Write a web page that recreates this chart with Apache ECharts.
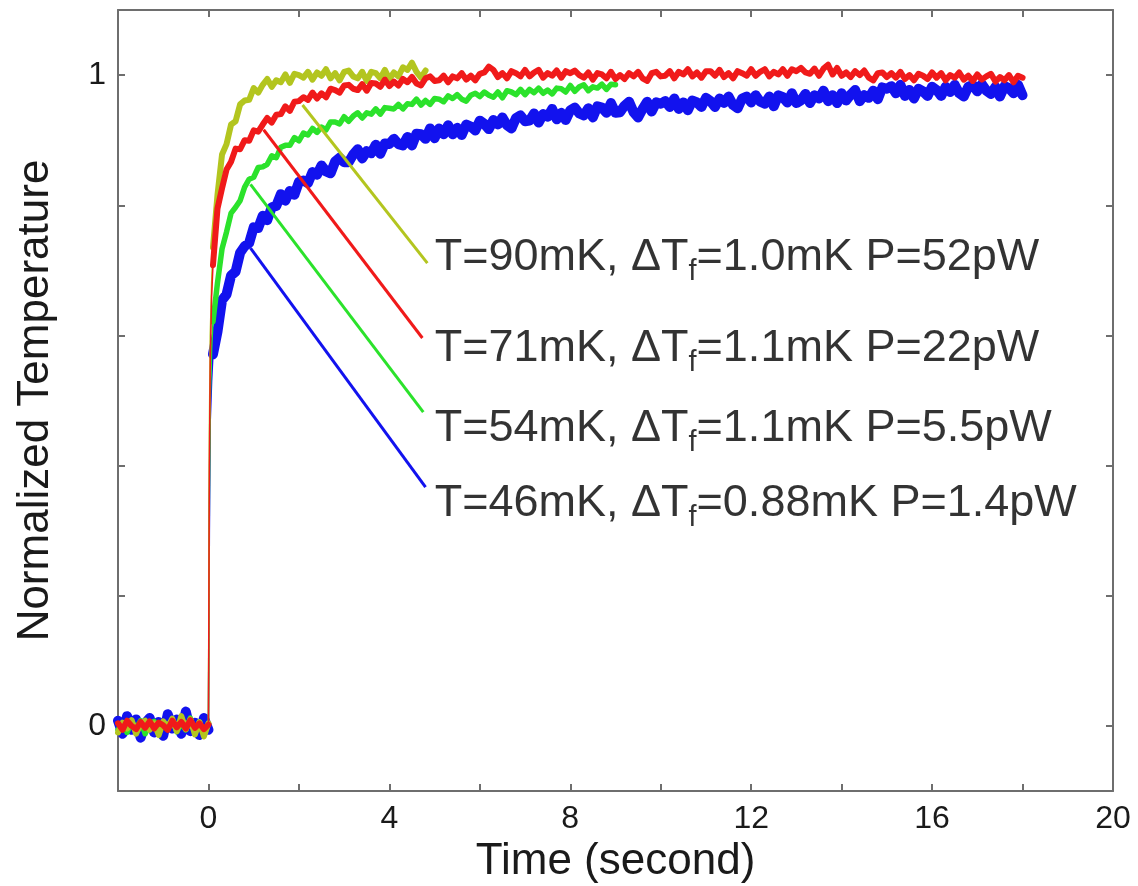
<!DOCTYPE html>
<html>
<head>
<meta charset="utf-8">
<script src="https://cdn.jsdelivr.net/npm/echarts@6/dist/echarts.min.js"></script>
<style>
html,body{margin:0;padding:0;background:#ffffff;}
#chart{width:1138px;height:886px;}
</style>
</head>
<body>
<div id="chart"></div>
<script>
// ---- data ----
const timeSec = [
  -2.0,-1.9,-1.8,-1.7,-1.6,-1.5,-1.4,-1.3,-1.2,-1.1,-1.0,-0.9,-0.8,-0.7,-0.6,-0.5,-0.4,-0.3,-0.2,-0.1,0.0,
  0.02,0.04,0.07,
  0.1,0.2,0.3,0.4,0.5,0.6,0.7,0.8,0.9,1.0,
  1.1,1.2,1.3,1.4,1.5,1.6,1.7,1.8,1.9,2.0,
  2.1,2.2,2.3,2.4,2.5,2.6,2.7,2.8,2.9,3.0,
  3.1,3.2,3.3,3.4,3.5,3.6,3.7,3.8,3.9,4.0,
  4.1,4.2,4.3,4.4,4.5,4.6,4.7,4.8,4.9,5.0,
  5.1,5.2,5.3,5.4,5.5,5.6,5.7,5.8,5.9,6.0,
  6.1,6.2,6.3,6.4,6.5,6.6,6.7,6.8,6.9,7.0,
  7.1,7.2,7.3,7.4,7.5,7.6,7.7,7.8,7.9,8.0,
  8.1,8.2,8.3,8.4,8.5,8.6,8.7,8.8,8.9,9.0,
  9.1,9.2,9.3,9.4,9.5,9.6,9.7,9.8,9.9,10.0,
  10.1,10.2,10.3,10.4,10.5,10.6,10.7,10.8,10.9,11.0,
  11.1,11.2,11.3,11.4,11.5,11.6,11.7,11.8,11.9,12.0,
  12.1,12.2,12.3,12.4,12.5,12.6,12.7,12.8,12.9,13.0,
  13.1,13.2,13.3,13.4,13.5,13.6,13.7,13.8,13.9,14.0,
  14.1,14.2,14.3,14.4,14.5,14.6,14.7,14.8,14.9,15.0,
  15.1,15.2,15.3,15.4,15.5,15.6,15.7,15.8,15.9,16.0,
  16.1,16.2,16.3,16.4,16.5,16.6,16.7,16.8,16.9,17.0,
  17.1,17.2,17.3,17.4,17.5,17.6,17.7,17.8,17.9,18.0
];

// T=46mK (blue)
const temp46 = [
  0.008,-0.012,0.015,-0.006,0.010,-0.018,0.004,0.012,-0.010,0.006,-0.015,0.018,-0.004,0.010,-0.012,0.022,-0.008,0.005,-0.014,0.012,-0.006,
  0.30,0.47,0.53,
  0.571,0.606,0.654,0.663,0.692,0.698,0.727,0.737,0.742,0.766,
  0.765,0.784,0.777,0.797,0.799,0.817,0.807,0.822,0.816,0.836,
  0.838,0.834,0.851,0.847,0.861,0.852,0.849,0.867,0.873,0.866,
  0.866,0.878,0.886,0.872,0.883,0.880,0.893,0.879,0.895,0.894,
  0.902,0.894,0.892,0.905,0.892,0.910,0.909,0.902,0.918,0.903,
  0.918,0.909,0.923,0.909,0.919,0.908,0.924,0.921,0.915,0.930,
  0.925,0.917,0.931,0.924,0.935,0.923,0.918,0.934,0.938,0.929,
  0.930,0.941,0.927,0.940,0.936,0.948,0.932,0.942,0.931,0.946,
  0.950,0.941,0.938,0.949,0.935,0.952,0.950,0.942,0.957,0.942,
  0.943,0.953,0.959,0.943,0.935,0.948,0.959,0.944,0.958,0.956,
  0.960,0.951,0.964,0.948,0.958,0.946,0.961,0.958,0.951,0.965,
  0.960,0.951,0.964,0.957,0.967,0.954,0.949,0.964,0.967,0.958,
  0.969,0.959,0.956,0.967,0.952,0.969,0.966,0.958,0.972,0.957,
  0.961,0.971,0.957,0.969,0.964,0.976,0.960,0.969,0.957,0.972,
  0.961,0.970,0.977,0.960,0.969,0.965,0.976,0.963,0.981,0.979,
  0.983,0.972,0.985,0.968,0.977,0.964,0.979,0.975,0.968,0.982,
  0.977,0.968,0.982,0.974,0.985,0.972,0.967,0.982,0.985,0.975,
  0.986,0.976,0.971,0.982,0.967,0.983,0.980,0.972,0.985,0.969
];

// T=54mK (green)
const temp54 = [
  -0.006,0.004,-0.010,0.006,-0.004,0.008,-0.012,0.003,0.007,-0.008,0.005,-0.003,0.010,-0.009,0.004,-0.006,0.012,-0.010,0.006,-0.012,0.003,
  0.35,0.50,0.58,
  0.621,0.681,0.733,0.759,0.788,0.797,0.807,0.828,0.840,0.843,
  0.858,0.859,0.863,0.876,0.873,0.889,0.892,0.892,0.904,0.899,
  0.911,0.908,0.918,0.912,0.920,0.916,0.928,0.928,0.925,0.936,
  0.929,0.937,0.942,0.934,0.942,0.940,0.948,0.940,0.950,0.949,
  0.948,0.955,0.948,0.956,0.955,0.963,0.954,0.961,0.955,0.964,
  0.963,0.959,0.968,0.964,0.970,0.963,0.960,0.969,0.972,0.967,
  0.974,0.969,0.966,0.974,0.965,0.976,0.974,0.970,0.978,0.970,
  0.978,0.973,0.980,0.972,0.977,0.971,0.980,0.979,0.974,0.984,
  0.975,0.982,0.985,0.976,0.982,0.980,0.986,0.978,0.986,0.985
];

// T=90mK (yellow-green)
const temp90 = [
  -0.010,0.005,-0.004,0.009,-0.012,0.003,0.008,-0.006,0.004,-0.014,0.007,-0.002,0.011,-0.008,0.015,-0.005,0.010,-0.013,0.006,-0.016,0.004,
  0.45,0.60,0.68,
  0.735,0.816,0.878,0.894,0.924,0.929,0.955,0.961,0.962,0.980,
  0.973,0.985,0.994,0.982,0.992,0.989,1.001,0.988,1.002,1.000,
  0.996,1.005,0.993,1.004,0.999,1.009,0.995,1.003,0.992,1.005,
  1.007,0.998,0.995,1.005,0.991,1.005,1.003,0.995,1.008,0.994,
  1.004,0.998,1.012,1.008,1.019,1.005,0.996,1.007
];

// T=71mK (red)
const temp71 = [
  0.004,-0.006,0.008,0.000,-0.005,0.006,-0.003,0.007,-0.004,0.005,0.001,-0.006,0.008,-0.002,0.006,-0.004,0.009,-0.003,0.004,-0.005,0.002,
  0.40,0.56,0.66,
  0.708,0.795,0.826,0.855,0.867,0.887,0.886,0.900,0.899,0.915,
  0.913,0.924,0.934,0.927,0.939,0.940,0.952,0.945,0.959,0.960,
  0.966,0.962,0.973,0.964,0.972,0.966,0.979,0.977,0.973,0.984,
  0.985,0.979,0.977,0.986,0.976,0.988,0.987,0.982,0.993,0.983,
  0.990,0.984,0.994,0.989,0.997,0.987,0.984,0.995,0.998,0.991,
  0.992,0.999,0.989,0.998,0.995,1.003,0.993,0.999,0.992,1.002,
  1.004,1.013,1.008,0.997,1.003,0.995,1.006,1.003,0.998,1.008,
  0.998,1.004,1.008,0.996,1.003,0.999,1.007,0.996,1.006,1.003,
  1.007,1.000,0.996,1.004,0.993,1.003,1.001,0.995,1.005,0.994,
  1.000,0.994,1.003,0.998,1.005,0.995,0.991,1.003,1.005,0.998,
  0.999,1.006,0.995,1.005,1.001,1.009,0.998,1.004,0.996,1.006,
  1.006,0.999,1.008,0.997,1.003,0.995,1.006,1.003,0.999,1.009,
  0.999,1.005,1.009,0.998,1.005,1.001,1.009,0.999,1.009,1.006,
  1.011,1.004,1.002,1.010,0.999,1.010,1.016,1.001,1.011,0.999,
  1.004,0.997,1.006,1.000,1.007,0.996,0.992,1.003,1.004,0.997,
  1.003,0.996,1.005,0.994,1.000,0.992,1.002,0.999,0.994,1.004,
  0.996,1.003,0.992,1.000,0.996,1.004,0.993,0.999,0.991,1.001,
  0.993,0.998,1.002,0.990,0.997,0.992,1.000,0.989,0.999,0.996
];

// annotation leader lines, order: 90mK, 71mK, 54mK, 46mK
const leaderStartT = [2.08, 1.22, 0.93, 0.93];
const leaderStartY = [0.954, 0.916, 0.832, 0.734];
const leaderEndT   = [4.84, 4.73, 4.75, 4.80];
const leaderEndY   = [0.711, 0.596, 0.482, 0.367];
const annotationT  = [4.99, 4.99, 4.99, 4.99];
const annotationY  = [0.717, 0.578, 0.454, 0.339];
const annotationText = [
  ['T=90mK, ΔT', 'f', '=1.0mK P=52pW'],
  ['T=71mK, ΔT', 'f', '=1.1mK P=22pW'],
  ['T=54mK, ΔT', 'f', '=1.1mK P=5.5pW'],
  ['T=46mK, ΔT', 'f', '=0.88mK P=1.4pW']
];

const xLabelValues = [0, 4, 8, 12, 16, 20];
const xTickValues = [0, 2, 4, 6, 8, 10, 12, 14, 16, 18];
const yLabelValues = [0, 1];
const yTickValues = [0, 0.2, 0.4, 0.6, 0.8, 1];

// ---- styling ----
const FONT = '"Liberation Sans", Arial, Helvetica, sans-serif';
const colors = { c90: '#b3c51f', c71: '#f01a1a', c54: '#2be22b', c46: '#1212ee' };
const annColors = [colors.c90, colors.c71, colors.c54, colors.c46];
const axisColor = '#6e6e6e';
// index of the last baseline sample (t=0) and of the first sample after the fast jump (t=0.1)
const JUMP_START = 20, JUMP_END = 24;

function pairs(vals) { return vals.map((v, i) => [timeSec[i], v]); }

function lineSeries(data, color, width, z) {
  return {
    type: 'line', data: data, showSymbol: false, symbol: 'none', smooth: false,
    lineStyle: { color: color, width: width, join: 'round', cap: 'round' }, z: z, silent: true
  };
}

// each trace: noisy baseline, thin fast jump, noisy relaxation
function traceSeries(vals, color, width, z) {
  const p = pairs(vals);
  return [
    lineSeries(p.slice(0, JUMP_START + 1), color, width, z),
    lineSeries(p.slice(JUMP_START, JUMP_END + 1), color, 1.5, z),
    lineSeries(p.slice(JUMP_END), color, width, z)
  ];
}

const series = [].concat(
  traceSeries(temp46, colors.c46, 10, 2),
  traceSeries(temp54, colors.c54, 5.5, 2),
  traceSeries(temp90, colors.c90, 6, 2),
  traceSeries(temp71, colors.c71, 6, 2)
);

for (let i = 0; i < 4; i++) {
  series.push(lineSeries([[leaderStartT[i], leaderStartY[i]], [leaderEndT[i], leaderEndY[i]]], annColors[i], 3, 3));
  series[series.length - 1].lineStyle.cap = 'butt';
}

series.push({
  type: 'scatter', silent: true, symbolSize: 1,
  itemStyle: { color: 'rgba(0,0,0,0)' },
  data: annotationT.map((t, i) => ({
    value: [t, annotationY[i]],
    label: {
      show: true, position: 'right', distance: 0, offset: [0, 13],
      formatter: '{m|' + annotationText[i][0] + '}{f|' + annotationText[i][1] + '}{m|' + annotationText[i][2] + '}',
      rich: {
        m: { fontSize: 45, fontFamily: FONT, color: '#000', lineHeight: 48, verticalAlign: 'top' },
        f: { fontSize: 29, fontFamily: FONT, color: '#000', lineHeight: 74, verticalAlign: 'middle' }
      }
    }
  })),
  z: 4
});

const chart = echarts.init(document.getElementById('chart'), null, { renderer: 'canvas' });

const baseX = {
  type: 'value', min: -2, max: 20, interval: 2,
  axisLine: { show: true, onZero: false, lineStyle: { color: axisColor, width: 2 } },
  axisTick: { show: true, inside: true, length: 7, customValues: xTickValues, lineStyle: { color: axisColor, width: 2 } },
  splitLine: { show: false }
};
const baseY = {
  type: 'value', min: -0.1, max: 1.1,
  axisLine: { show: true, onZero: false, lineStyle: { color: axisColor, width: 2 } },
  axisTick: { show: true, inside: true, length: 7, customValues: yTickValues, lineStyle: { color: axisColor, width: 2 } },
  splitLine: { show: false }
};

chart.setOption({
  animation: false,
  backgroundColor: '#ffffff',
  grid: { left: 118, right: 25, top: 10, bottom: 95, containLabel: false, outerBoundsMode: 'none' },
  xAxis: [
    Object.assign({}, baseX, {
      position: 'bottom',
      axisLabel: { show: true, customValues: xLabelValues, fontSize: 32, fontFamily: FONT, color: '#1a1a1a', margin: 12 },
      name: 'Time (second)', nameLocation: 'middle', nameGap: 44,
      nameTextStyle: { fontSize: 44, fontFamily: FONT, color: '#1a1a1a' }
    }),
    Object.assign({}, baseX, { position: 'top', axisLabel: { show: false } })
  ],
  yAxis: [
    Object.assign({}, baseY, {
      position: 'left',
      axisLabel: { show: true, customValues: yLabelValues, fontSize: 32, fontFamily: FONT, color: '#1a1a1a', margin: 12 },
      name: 'Normalized Temperature', nameLocation: 'middle', nameGap: 60, nameRotate: 90,
      nameTextStyle: { fontSize: 44, fontFamily: FONT, color: '#1a1a1a' }
    }),
    Object.assign({}, baseY, { position: 'right', axisLabel: { show: false } })
  ],
  series: series
});
</script>
</body>
</html>
